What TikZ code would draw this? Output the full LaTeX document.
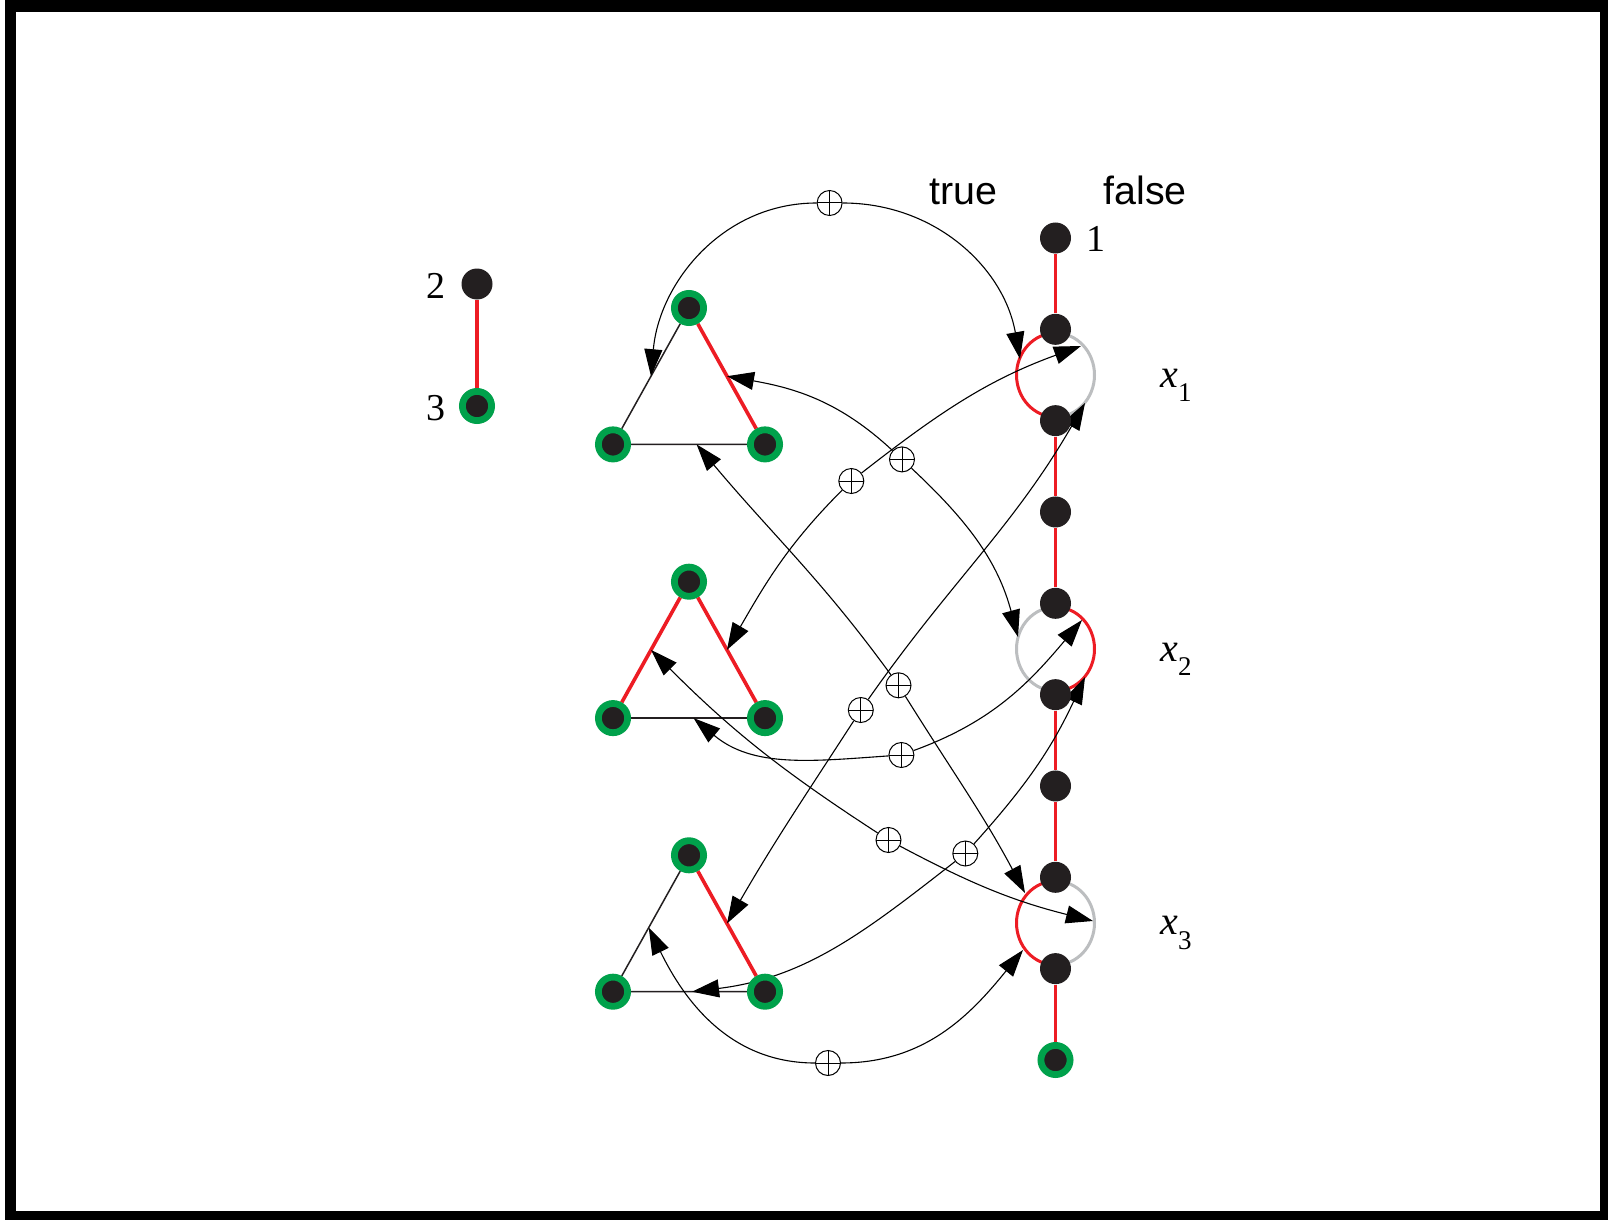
\documentclass[tikz,border=0pt]{standalone}
\usepackage{fontspec}
\setmainfont{Liberation Serif}
\newfontfamily\sanslabel{Liberation Sans}
\usetikzlibrary{arrows.meta,calc}
\definecolor{dotblack}{HTML}{231F20}
\definecolor{ringgreen}{HTML}{00A14B}
\definecolor{edgered}{HTML}{ED1C24}
\definecolor{loopgray}{HTML}{BCBEC0}
\pgfdeclarelayer{frame}
\pgfdeclarelayer{edges}
\pgfsetlayers{frame,edges,main}
\begin{document}
\begin{tikzpicture}[x=0.5pt,y=0.5pt,
  dot/.style={circle,fill=dotblack,inner sep=0pt,minimum size=15.5pt},
  gdot/.style={circle,fill=dotblack,draw=ringgreen,line width=3.4pt,inner sep=0pt,minimum size=14.6pt},
  xor/.style={circle,draw,fill=white,line width=0.5pt,inner sep=0pt,minimum size=12.5pt,
    path picture={\draw[line width=0.5pt]
      (path picture bounding box.north) -- (path picture bounding box.south)
      (path picture bounding box.west) -- (path picture bounding box.east);}},
  conn/.style={line width=0.55pt,-{Triangle[length=13.5pt,width=9pt]}},
  plainedge/.style={line width=0.75pt,dotblack},
  rededge/.style={line width=1.8pt,edgered},
  chainedge/.style={line width=1.5pt,edgered},
  loopred/.style={line width=1.5pt,edgered},
  loopgrey/.style={line width=1.5pt,loopgray},
  numlabel/.style={font=\fontsize{19}{22}\selectfont,inner sep=0pt},
  wordlabel/.style={font=\sanslabel\fontsize{19.7}{24}\selectfont,inner sep=0pt,anchor=base},
  varlabel/.style={inner sep=0pt,anchor=base west}]

\useasboundingbox (0,0) rectangle (1608,-1220);
\begin{pgfonlayer}{frame}
  \fill[black] (5,0) rectangle (1608,-1220);
  \fill[white] (16,-12) rectangle (1600,-1211);
\end{pgfonlayer}

% the single edge 2--3
\node[dot]  (n2) at (477,-284) {};
\node[gdot] (n3) at (477,-406) {};
\node[numlabel] (l2) at (436,-286) {2};
\node[numlabel] (l3) at (436,-408) {3};

% the variable chain
\foreach \k in {0,...,8}
  \node[dot] (c\k) at (1055.5,{-238-91.33*\k}) {};
\node[gdot] (c9) at (1055.5,-1060) {};
\node[numlabel] (l1) at (1096,-238.5) {1};

% clause triangles
\foreach \i/\ty in {1/308,2/581.7,3/855.3} {
  \node[gdot] (T\i t) at (689,-\ty) {};
  \node[gdot] (T\i l) at (613,{-\ty-136.4}) {};
  \node[gdot] (T\i r) at (765,{-\ty-136.4}) {};
}

% loop centres
\coordinate (L1) at ($(c1)!0.5!(c2)$);
\coordinate (L2) at ($(c4)!0.5!(c5)$);
\coordinate (L3) at ($(c7)!0.5!(c8)$);

% labels
\node[wordlabel] (ttrue)  at (963.5,-205) {true};
\node[wordlabel] (tfalse) at (1145,-205) {false};
\foreach \i/\by in {1/387.3,2/661.1,3/934.9}
  \node[varlabel] (x\i) at (1160,-\by)
    {\fontsize{20}{24}\selectfont\textit{x}\raisebox{-7.2pt}{\fontsize{13.5}{16}\selectfont \i}};

% XOR gadgets
\node[xor] (p1) at (829.6,-203) {};
\node[xor] (p2) at (902,-459.4) {};
\node[xor] (p3) at (851.3,-481) {};
\node[xor] (p4) at (898.5,-685.3) {};
\node[xor] (p5) at (860.8,-710) {};
\node[xor] (p6) at (901.4,-755) {};
\node[xor] (p7) at (888.5,-840) {};
\node[xor] (p8) at (965.3,-853.5) {};
\node[xor] (p9) at (828,-1063) {};

% arrow ends on the triangle edges
\coordinate (a1) at ($(T1t)!0.5!(T1l)$);
\coordinate (a2) at ($(T1t)!0.5!(T1r)$);
\coordinate (a4) at ($(T1l)!0.55!(T1r)$);
\coordinate (b3) at ($(T2t)!0.5!(T2r)$);
\coordinate (b7) at ($(T2t)!0.5!(T2l)$);
\coordinate (b6) at ($(T2l)!0.53!(T2r)$);
\coordinate (d5) at ($(T3t)!0.5!(T3r)$);
\coordinate (d9) at ($(T3t)!0.53!(T3l)$);
\coordinate (d8) at ($(T3l)!0.52!(T3r)$);
% arrow ends on the loops
\coordinate (e1) at (1020,-359);
\coordinate (e3) at (1081,-346);
\coordinate (e5) at (1085,-403);
\coordinate (e2) at (1018,-637);
\coordinate (e6) at (1082,-620);
\coordinate (e8) at (1085,-677);
\coordinate (e4) at (1025,-893);
\coordinate (e7) at (1093,-921);
\coordinate (e9) at (1023,-950);

\begin{pgfonlayer}{edges}
  \draw[rededge] (n2) -- (n3);
  % chain segments
  \draw[chainedge] (c0) -- (c1) (c2) -- (c3) -- (c4) (c5) -- (c6) -- (c7) (c8) -- (c9);
  % loops
  \draw[loopred]  ([yshift=21pt]L1) arc[start angle=90,end angle=270,x radius=39,y radius=42];
  \draw[loopgrey] ([yshift=-21pt]L1) arc[start angle=-90,end angle=90,x radius=39,y radius=42];
  \draw[loopgrey] ([yshift=21pt]L2) arc[start angle=90,end angle=270,x radius=39,y radius=42];
  \draw[loopred]  ([yshift=-21pt]L2) arc[start angle=-90,end angle=90,x radius=39,y radius=42];
  \draw[loopred]  ([yshift=21pt]L3) arc[start angle=90,end angle=270,x radius=39,y radius=42];
  \draw[loopgrey] ([yshift=-21pt]L3) arc[start angle=-90,end angle=90,x radius=39,y radius=42];
  % triangle sides
  \draw[plainedge] (T1t) -- (T1l) -- (T1r);
  \draw[rededge]   (T1t) -- (T1r);
  \draw[rededge]   (T2l) -- (T2t) -- (T2r);
  \draw[plainedge] (T2l) -- (T2r);
  \draw[plainedge] (T3t) -- (T3l) -- (T3r);
  \draw[rededge]   (T3t) -- (T3r);
  % XOR connectors
  \draw[conn] (p1) to[out=180,in=85]  (a1);
  \draw[conn] (p1) to[out=0,in=100]   (e1);
  \draw[conn] (p2) to[out=137,in=-10] (a2);
  \draw[conn] (p2) to[out=-43,in=105] (e2);
  \draw[conn] (p3) to[out=38,in=200]  (e3);
  \draw[conn] (p3) to[out=225,in=60]  (b3);
  \draw[conn] (p4) to[out=126,in=-50] (a4);
  \draw[conn] (p4) to[out=-58,in=118] (e4);
  \draw[conn] (p5) to[out=55,in=240]  (e5);
  \draw[conn] (p5) to[out=237,in=60]  (d5);
  \draw[conn] (p6) to[out=184,in=-40] (b6);
  \draw[conn] (p6) to[out=20,in=230]  (e6);
  \draw[conn] (p7) to[out=147,in=-45] (b7);
  \draw[conn] (p7) to[out=-28,in=166] (e7);
  \draw[conn] (p8) to[out=48,in=245]  (e8);
  \draw[conn] (p8) to[out=218,in=7]   (d8);
  \draw[conn] (p9) to[out=180,in=-64] (d9);
  \draw[conn] (p9) to[out=0,in=231]   (e9);
\end{pgfonlayer}
\end{tikzpicture}
\end{document}
